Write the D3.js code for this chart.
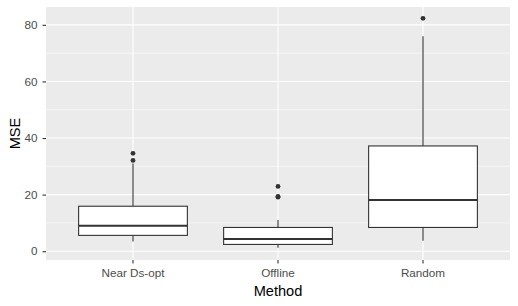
<!DOCTYPE html>
<html>
<head>
<meta charset="utf-8">
<script src="https://cdn.jsdelivr.net/npm/d3@7"></script>
<style>
  body { margin: 0; background: #fff; }
  svg { font-family: "Liberation Sans", Arial, sans-serif; }
</style>
</head>
<body>
<div id="chart"></div>
<script>
// box stats
var methods = ["Near Ds-opt", "Offline", "Random"];
var whiskerLow = [3.4, 1.2, 3.7];
var q1 = [5.6, 2.4, 8.4];
var median = [9.0, 4.3, 18.1];
var q3 = [15.9, 8.4, 37.2];
var whiskerHigh = [31.0, 11.0, 76.0];
var outliers = [[32.1, 34.6], [19.1, 19.4, 22.9], [82.3]];
var yTicks = [0, 20, 40, 60, 80];
var yMinor = [10, 30, 50, 70];

(function() {
	var width = 518, height = 306;
	var left = 46, right = 510, top = 7, bottom = 260;

	var svg = d3.select("#chart")
		.append("svg")
		.attr("width", width)
		.attr("height", height);

	var x = d3.scaleBand().domain(methods).range([left, right]).paddingOuter(0.1).paddingInner(0);
	var y = d3.scaleLinear().domain([-3.1, 86.3]).range([bottom, top]);
	var boxW = x.bandwidth() * 0.75;
	var cx = function(i) { return x(methods[i]) + x.bandwidth() / 2; };

	// panel
	svg.append("rect")
		.attr("x", left).attr("y", top)
		.attr("width", right - left).attr("height", bottom - top)
		.attr("fill", "#EBEBEB");

	svg.selectAll(".minor").data(yMinor).enter().append("line")
		.attr("x1", left).attr("x2", right)
		.attr("y1", function(d) { return y(d); }).attr("y2", function(d) { return y(d); })
		.attr("stroke", "#fff").attr("stroke-width", 0.55);

	svg.selectAll(".major").data(yTicks).enter().append("line")
		.attr("x1", left).attr("x2", right)
		.attr("y1", function(d) { return y(d); }).attr("y2", function(d) { return y(d); })
		.attr("stroke", "#fff").attr("stroke-width", 1.1);

	svg.selectAll(".vmajor").data(methods).enter().append("line")
		.attr("x1", function(d, i) { return cx(i); }).attr("x2", function(d, i) { return cx(i); })
		.attr("y1", top).attr("y2", bottom)
		.attr("stroke", "#fff").attr("stroke-width", 1.1);

	// axes
	var yAxis = svg.append("g")
		.attr("transform", "translate(" + left + ",0)")
		.call(d3.axisLeft(y).tickValues(yTicks).tickSize(3.5).tickPadding(5));
	yAxis.select(".domain").remove();
	yAxis.selectAll("line").attr("stroke", "#333333").attr("stroke-width", 1.1);
	yAxis.selectAll("text").attr("fill", "#4D4D4D").style("font-size", "11.7px");

	var xAxis = svg.append("g")
		.attr("transform", "translate(0," + bottom + ")")
		.call(d3.axisBottom(x).tickSize(3.5).tickPadding(5));
	xAxis.select(".domain").remove();
	xAxis.selectAll("line").attr("stroke", "#333333").attr("stroke-width", 1.1);
	xAxis.selectAll("text").attr("fill", "#4D4D4D").style("font-size", "11.7px");

	svg.append("text")
		.attr("x", (left + right) / 2).attr("y", 296)
		.attr("text-anchor", "middle")
		.style("font-size", "14.6px")
		.text("Method");

	svg.append("text")
		.attr("transform", "translate(20," + ((top + bottom) / 2) + ") rotate(-90)")
		.attr("text-anchor", "middle")
		.style("font-size", "14.6px")
		.text("MSE");

	// boxes
	var boxes = svg.selectAll(".box").data(methods).enter().append("g");

	boxes.append("line")
		.attr("x1", function(d, i) { return cx(i); }).attr("x2", function(d, i) { return cx(i); })
		.attr("y1", function(d, i) { return y(whiskerLow[i]); })
		.attr("y2", function(d, i) { return y(q1[i]); })
		.attr("stroke", "#333333").attr("stroke-width", 1.1);

	boxes.append("line")
		.attr("x1", function(d, i) { return cx(i); }).attr("x2", function(d, i) { return cx(i); })
		.attr("y1", function(d, i) { return y(q3[i]); })
		.attr("y2", function(d, i) { return y(whiskerHigh[i]); })
		.attr("stroke", "#333333").attr("stroke-width", 1.1);

	boxes.append("rect")
		.attr("x", function(d, i) { return cx(i) - boxW / 2; })
		.attr("y", function(d, i) { return y(q3[i]); })
		.attr("width", boxW)
		.attr("height", function(d, i) { return y(q1[i]) - y(q3[i]); })
		.attr("fill", "#fff").attr("stroke", "#333333").attr("stroke-width", 1.1);

	boxes.append("line")
		.attr("x1", function(d, i) { return cx(i) - boxW / 2; })
		.attr("x2", function(d, i) { return cx(i) + boxW / 2; })
		.attr("y1", function(d, i) { return y(median[i]); })
		.attr("y2", function(d, i) { return y(median[i]); })
		.attr("stroke", "#333333").attr("stroke-width", 2.1);

	boxes.each(function(d, i) {
		d3.select(this).selectAll("circle").data(outliers[i]).enter().append("circle")
			.attr("cx", cx(i))
			.attr("cy", function(v) { return y(v); })
			.attr("r", 2.4)
			.attr("fill", "#333333");
	});
})();
</script>
</body>
</html>
